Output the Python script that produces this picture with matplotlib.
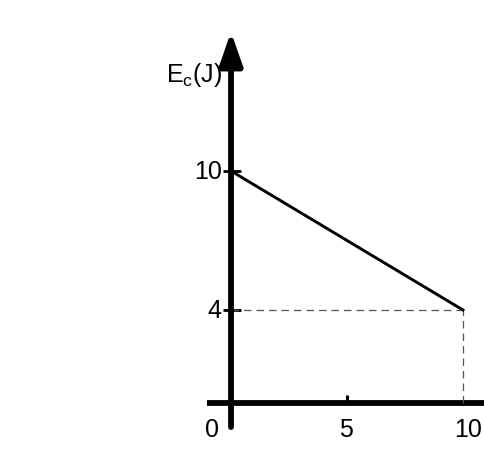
import matplotlib
matplotlib.use("Agg")
import matplotlib.pyplot as plt

plt.rcParams['font.family'] = ['Liberation Sans', 'DejaVu Sans']
plt.rcParams['mathtext.fontset'] = 'custom'
plt.rcParams['mathtext.rm'] = 'Liberation Sans'
plt.rcParams['mathtext.it'] = 'Liberation Sans'

# data
t = [0, 10]
ec = [10, 4]
x_ticks = [5, 10]
x_labels = ['0', '5', '10']
y_ticks = [10, 4]

fig = plt.figure(figsize=(4.85, 4.6), dpi=100)
ax = fig.add_axes([0, 0, 1, 1])
ax.set_xlim(-9.96, 10.95)
ax.set_ylim(-2.43, 17.42)
ax.axis('off')

# axes
ax.plot([-1.03, 10.95], [0, 0], color='black', lw=4.2, solid_capstyle='butt')
ax.annotate('', xy=(0, 16.0), xytext=(0, -1.05),
            arrowprops=dict(arrowstyle='-|>,head_length=2.0,head_width=0.7',
                            lw=4.2, color='black', shrinkA=0, shrinkB=0))

# ticks
for yt in y_ticks:
    ax.plot([-0.35, 0.42], [yt, yt], color='black', lw=2, solid_capstyle='butt')
    ax.text(-0.4, yt, str(yt), ha='right', va='center', fontsize=18)
ax.plot([5, 5], [0, 0.33], color='black', lw=2.2, solid_capstyle='butt')

# tick labels on x
for xv, lab in zip([-0.84, 4.95, 10.2], x_labels):
    ax.text(xv, -1.13, lab, ha='center', va='center', fontsize=18)

# guide lines
ax.plot([0, t[1]], [ec[1], ec[1]], color='#555555', lw=0.9, dashes=(6, 4))
ax.plot([t[1], t[1]], [0, ec[1]], color='#555555', lw=0.9, dashes=(6, 4))

# data line
ax.plot(t, ec, color='black', lw=2.1)

ax.text(-0.39, 14.19, r'$\mathregular{E_c(J)}$', ha='right', va='center', fontsize=18)

fig.savefig('out.png', dpi=100)
